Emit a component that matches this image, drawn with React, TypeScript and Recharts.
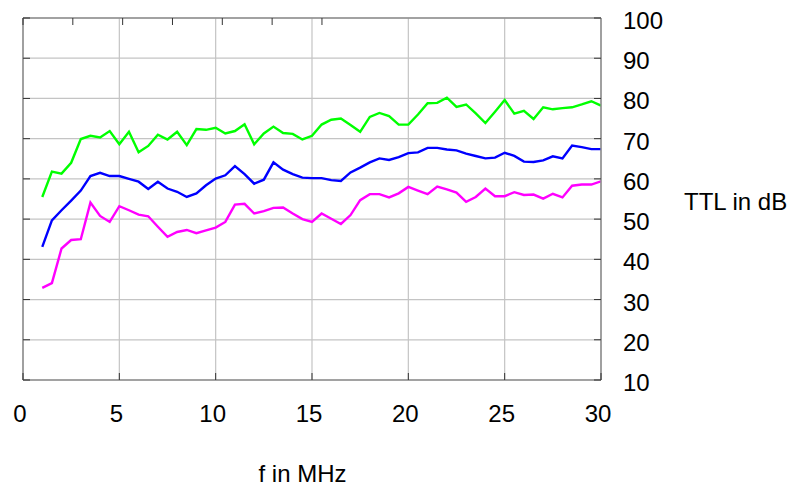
import React from 'react';
import { LineChart, Line, XAxis, YAxis, CartesianGrid } from 'recharts';

// Frequency points in MHz
const freqs = [
  1, 1.5, 2, 2.5, 3, 3.5, 4, 4.5, 5, 5.5, 6, 6.5, 7, 7.5, 8, 8.5, 9, 9.5, 10, 10.5,
  11, 11.5, 12, 12.5, 13, 13.5, 14, 14.5, 15, 15.5, 16, 16.5, 17, 17.5, 18, 18.5, 19, 19.5, 20, 20.5,
  21, 21.5, 22, 22.5, 23, 23.5, 24, 24.5, 25, 25.5, 26, 26.5, 27, 27.5, 28, 28.5, 29, 29.5, 30,
];

// TTL in dB for the three curves
const ttlGreen = [
  55.5, 61.8, 61.3, 64.0, 69.9, 70.7, 70.3, 71.9, 68.6, 71.7, 66.6, 68.2, 71.0, 69.8, 71.7,
  68.4, 72.4, 72.2, 72.7, 71.3, 71.9, 73.6, 68.6, 71.3, 73.0, 71.4, 71.2, 69.8, 70.7,
  73.5, 74.7, 75.0, 73.4, 71.7, 75.4, 76.4, 75.6, 73.5, 73.5, 76.0, 78.8, 78.9, 80.2, 77.9,
  78.5, 76.3, 73.9, 76.7, 79.6, 76.2, 76.9, 74.9, 77.8, 77.3, 77.6, 77.8, 78.5, 79.3, 78.2,
];

const ttlBlue = [
  43.1, 49.7, 52.2, 54.6, 57.1, 60.7, 61.5, 60.7, 60.7, 60.0, 59.3, 57.5, 59.3, 57.6, 56.8,
  55.5, 56.4, 58.4, 60.1, 60.9, 63.2, 61.2, 58.8, 59.8, 64.1, 62.3, 61.2, 60.3, 60.2,
  60.2, 59.7, 59.5, 61.6, 62.8, 64.1, 65.1, 64.7, 65.4, 66.4, 66.6, 67.7, 67.7, 67.3, 67.1,
  66.3, 65.7, 65.1, 65.3, 66.5, 65.7, 64.3, 64.2, 64.6, 65.6, 65.1, 68.3, 67.9, 67.4, 67.4,
];

const ttlMagenta = [
  32.9, 34.1, 42.7, 44.8, 45.0, 54.1, 50.8, 49.3, 53.2, 52.2, 51.1, 50.7, 48.1, 45.6, 46.8,
  47.3, 46.5, 47.2, 47.9, 49.3, 53.6, 53.8, 51.4, 52.0, 52.8, 52.9, 51.4, 50.0, 49.3,
  51.4, 50.1, 48.8, 51.0, 54.7, 56.2, 56.2, 55.4, 56.4, 58.0, 57.1, 56.2, 58.1, 57.4, 56.6,
  54.3, 55.5, 57.6, 55.7, 55.7, 56.7, 56.0, 56.1, 55.1, 56.3, 55.4, 58.3, 58.6, 58.6, 59.4,
];

const xTicks = [0, 5, 10, 15, 20, 25, 30];
const yTicks = [10, 20, 30, 40, 50, 60, 70, 80, 90, 100];

const data = freqs.map((f, i) => ({
  f,
  green: ttlGreen[i],
  blue: ttlBlue[i],
  magenta: ttlMagenta[i],
}));

const FONT = '"Liberation Sans", Arial, sans-serif';
const FONT_SIZE = 24;
const TICK_LEN = 7;
const TICK_COLOR = '#333333';
const FRAME = { stroke: '#8c8c8c', strokeWidth: 1.5 };
const LINE_WIDTH = 2.4;

const BottomTick = (props: any) => {
  const { x, y, payload } = props;
  return (
    <g>
      <line x1={x} y1={y} x2={x} y2={y - TICK_LEN} stroke={TICK_COLOR} strokeWidth={1} />
      <text x={x - 3} y={y + 42} textAnchor="middle" fontSize={FONT_SIZE} fontFamily={FONT} fill="#000">
        {payload.value}
      </text>
    </g>
  );
};

const TopTick = (props: any) => {
  const { x, y } = props;
  return <line x1={x} y1={y} x2={x} y2={y + TICK_LEN} stroke={TICK_COLOR} strokeWidth={1} />;
};

const LeftTick = (props: any) => {
  const { x, y } = props;
  return <line x1={x} y1={y} x2={x + TICK_LEN} y2={y} stroke={TICK_COLOR} strokeWidth={1} />;
};

const RightTick = (props: any) => {
  const { x, y, payload } = props;
  return (
    <g>
      <line x1={x} y1={y} x2={x - TICK_LEN} y2={y} stroke={TICK_COLOR} strokeWidth={1} />
      <text x={x + 22} y={y + 11} textAnchor="start" fontSize={FONT_SIZE} fontFamily={FONT} fill="#000">
        {payload.value}
      </text>
    </g>
  );
};

const XTitle = (props: any) => {
  const vb = props.viewBox;
  return (
    <text x={vb.x + vb.width / 2 - 9.5} y={vb.y + 102} textAnchor="middle" fontSize={FONT_SIZE} fontFamily={FONT} fill="#000">
      f in MHz
    </text>
  );
};

const YTitle = (props: any) => {
  const vb = props.viewBox;
  return (
    <text x={vb.x + 83} y={vb.y + vb.height / 2 + 11} textAnchor="start" fontSize={FONT_SIZE} fontFamily={FONT} fill="#000">
      TTL in dB
    </text>
  );
};

export default function App() {
  return (
    <div style={{ position: 'absolute', left: 0, top: 0, width: 793, height: 486, background: '#fff' }}>
      <LineChart width={793} height={486} data={data} margin={{ top: 17, right: 191, bottom: 105, left: 22 }}>
        <CartesianGrid xAxisId="b" yAxisId="r" stroke="#c4c4c4" strokeWidth={1.2} />
        <XAxis
          xAxisId="b"
          dataKey="f"
          type="number"
          domain={[0, 30]}
          ticks={xTicks}
          interval={0}
          height={1}
          tickSize={0}
          tickMargin={0}
          tickLine={false}
          axisLine={FRAME}
          tick={<BottomTick />}
          allowDataOverflow
          label={{ content: <XTitle /> }}
        />
        <XAxis
          xAxisId="t"
          orientation="top"
          type="number"
          domain={[0, 30]}
          ticks={xTicks}
          interval={0}
          height={1}
          tickSize={0}
          tickMargin={0}
          tickLine={false}
          axisLine={FRAME}
          tick={<TopTick />}
          allowDataOverflow
        />
        <YAxis
          yAxisId="l"
          orientation="left"
          type="number"
          domain={[10, 100]}
          ticks={yTicks}
          interval={0}
          width={1}
          tickSize={0}
          tickMargin={0}
          tickLine={false}
          axisLine={FRAME}
          tick={<LeftTick />}
          allowDataOverflow
        />
        <YAxis
          yAxisId="r"
          orientation="right"
          type="number"
          domain={[10, 100]}
          ticks={yTicks}
          interval={0}
          width={1}
          tickSize={0}
          tickMargin={0}
          tickLine={false}
          axisLine={FRAME}
          tick={<RightTick />}
          allowDataOverflow
          label={{ content: <YTitle /> }}
        />
        <Line xAxisId="b" yAxisId="r" type="linear" dataKey="green" stroke="#00ff00" strokeWidth={LINE_WIDTH} dot={false} isAnimationActive={false} />
        <Line xAxisId="b" yAxisId="r" type="linear" dataKey="blue" stroke="#0000ff" strokeWidth={LINE_WIDTH} dot={false} isAnimationActive={false} />
        <Line xAxisId="b" yAxisId="r" type="linear" dataKey="magenta" stroke="#ff00ff" strokeWidth={LINE_WIDTH} dot={false} isAnimationActive={false} />
      </LineChart>
    </div>
  );
}
